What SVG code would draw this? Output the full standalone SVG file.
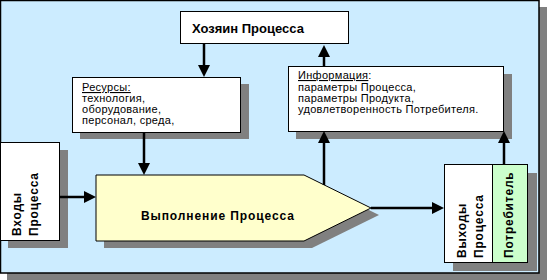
<svg xmlns="http://www.w3.org/2000/svg" width="547" height="280" viewBox="0 0 547 280">
<style>
.shadow{fill:#808080;stroke:none}
.box{fill:#fff;stroke:#000;stroke-width:1}
.conn{stroke:#000;stroke-width:2.5;fill:none}
.t{font-family:"Liberation Sans",Arial,sans-serif;fill:#000}
.s{font-size:11px;letter-spacing:0.3px}
.b{font-size:12px;font-weight:bold;letter-spacing:0.8px}
.u{text-decoration:underline}
</style>
<defs>
<marker id="ah" markerUnits="userSpaceOnUse" markerWidth="12" markerHeight="12" viewBox="0 0 12 12" refX="2" refY="6" orient="auto">
<path d="M0,0 L12,6 L0,12 z" fill="#000"/>
</marker>
</defs>
<g id="panel">
<rect class="shadow" x="7" y="7" width="540" height="273"/>
<rect x="0.5" y="0.5" width="538.5" height="272.5" fill="#CCECFF" stroke="#000" stroke-width="1.5"/>
</g>
<g id="owner">
<rect class="box" x="180.5" y="11.5" width="168" height="32"/>
<text class="t" x="192" y="33" font-size="13" font-weight="bold">Хозяин Процесса</text>
</g>
<g id="resources">
<rect class="shadow" x="80" y="84" width="169" height="55"/>
<rect class="box" x="72.5" y="77.5" width="168" height="55"/>
<text class="t s"><tspan x="82" y="91" class="u">Ресурсы:</tspan><tspan x="82" y="102">технология,</tspan><tspan x="82" y="113">оборудование,</tspan><tspan x="82" y="124">персонал, среда,</tspan></text>
</g>
<g id="info">
<rect class="shadow" x="296" y="74" width="216" height="65"/>
<rect class="box" x="288.5" y="66.5" width="215" height="65"/>
<text class="t s"><tspan x="298" y="79"><tspan class="u">Информация</tspan>:</tspan><tspan x="298" y="91">параметры Процесса,</tspan><tspan x="298" y="102">параметры Продукта,</tspan><tspan x="298" y="113">удовлетворенность Потребителя.</tspan></text>
</g>
<g id="inputs">
<rect class="shadow" x="8" y="150" width="60" height="98"/>
<rect class="box" x="0.5" y="142.5" width="59" height="98"/>
<text class="t b" transform="translate(21,236) rotate(-90)"><tspan x="0" y="0">Входы</tspan><tspan x="0" y="17">Процесса</tspan></text>
</g>
<g id="process">
<polygon class="shadow" points="104,182 312,182 379,215 312,248 104,248"/>
<polygon points="96,175 304,175 371,208 304,241 96,241" fill="#FFFFCC" stroke="#000" stroke-width="1"/>
<text class="t" x="141" y="220" font-size="12" font-weight="bold" letter-spacing="0.9">Выполнение Процесса</text>
</g>
<g id="outputs">
<rect class="shadow" x="453" y="173" width="84" height="98"/>
<rect class="box" x="444.5" y="164.5" width="48" height="98"/>
<text class="t b" transform="translate(466,258) rotate(-90)"><tspan x="0" y="0">Выходы</tspan><tspan x="0" y="17">Процесса</tspan></text>
</g>
<g id="consumer">
<rect x="492.5" y="164.5" width="35" height="98" fill="#CCFFCC" stroke="#000" stroke-width="1"/>
<text class="t b" transform="translate(513,258) rotate(-90)">Потребитель</text>
</g>
<g id="connectors">
<line class="conn" x1="204" y1="44" x2="204" y2="67" marker-end="url(#ah)"/>
<line class="conn" x1="324" y1="66" x2="324" y2="55" marker-end="url(#ah)"/>
<line class="conn" x1="144" y1="133" x2="144" y2="165" marker-end="url(#ah)"/>
<line class="conn" x1="324" y1="185" x2="324" y2="141" marker-end="url(#ah)"/>
<line class="conn" x1="504" y1="164" x2="504" y2="141" marker-end="url(#ah)"/>
<line class="conn" x1="60" y1="197" x2="86" y2="197" marker-end="url(#ah)"/>
<line class="conn" x1="371" y1="208" x2="434" y2="208" marker-end="url(#ah)"/>
</g>
</svg>
